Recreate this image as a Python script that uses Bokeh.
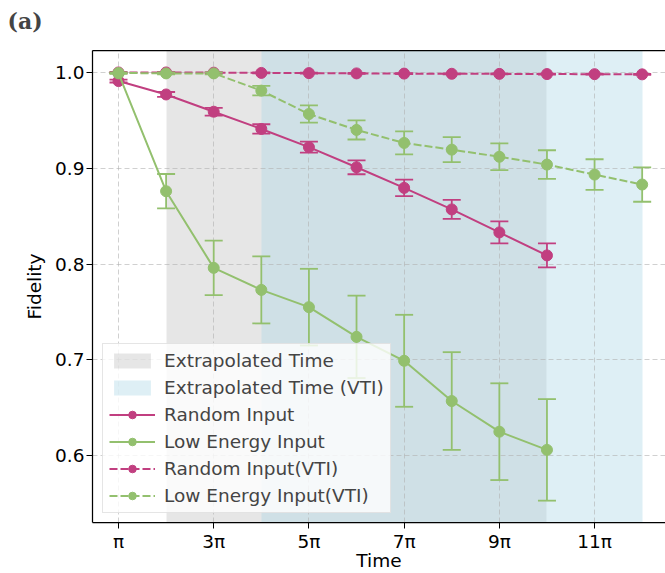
import numpy as np
from bokeh.plotting import figure
from bokeh.models import (ColumnDataSource, Legend, LegendItem, Title,
                          LinearAxis, FixedTicker, Range1d, NumeralTickFormatter)
from bokeh.embed import file_html
from bokeh.resources import INLINE

# ---------------- data ----------------
time_pi = [1, 2, 3, 4, 5, 6, 7, 8, 9, 10, 11, 12]          # time in units of pi
x_ticks = [1, 3, 5, 7, 9, 11]
x_tick_labels = ["π", "3π", "5π", "7π", "9π", "11π"]
y_ticks = [0.6, 0.7, 0.8, 0.9, 1.0]

extrap_span = [2, 10]        # Extrapolated Time
extrap_vti_span = [4, 12]    # Extrapolated Time (VTI)

random_fid = [0.991, 0.977, 0.959, 0.941, 0.922, 0.901, 0.8795, 0.857, 0.833, 0.809]
random_err = [0.0015, 0.0026, 0.004, 0.0049, 0.0057, 0.0073, 0.0087, 0.0099, 0.0115, 0.0125]

low_fid = [0.999, 0.876, 0.796, 0.773, 0.755, 0.724, 0.699, 0.657, 0.625, 0.606]
low_err = [0.0005, 0.018, 0.0285, 0.035, 0.040, 0.043, 0.048, 0.051, 0.0505, 0.053]

random_vti_fid = [1.0, 1.0, 0.9998, 0.9995, 0.9993, 0.999, 0.9988, 0.9986, 0.9985, 0.9983, 0.9982, 0.998]
random_vti_err = [0.0005] * 12

low_vti_fid = [0.9995, 0.999, 0.999, 0.981, 0.9566, 0.940, 0.9264, 0.9194, 0.912, 0.9038, 0.8934, 0.883]
low_vti_err = [0.0005, 0.001, 0.001, 0.005, 0.009, 0.010, 0.012, 0.013, 0.014, 0.015, 0.016, 0.018]

MAGENTA = "#c13f80"
GREEN = "#93c06e"
FONT = "DejaVu Sans"
FS = "18.5px"

p = figure(width=665, height=573, output_backend="svg", toolbar_location=None,
           x_range=Range1d(0.454, 12.49), y_range=Range1d(0.5302, 1.0229),
           min_border_left=92, min_border_right=0, min_border_top=49, min_border_bottom=0)
p.outline_line_color = None
p.background_fill_color = "white"

xaxis = p.below[0]
yaxis = p.left[0]

# axes
for ax in (xaxis, yaxis):
    ax.axis_line_color = "black"
    ax.axis_line_width = 1.25
    ax.major_tick_line_color = "black"
    ax.major_tick_line_width = 1
    ax.major_tick_out = 6
    ax.major_tick_in = 0
    ax.minor_tick_line_color = None
    ax.major_label_text_font = FONT
    ax.major_label_text_font_size = FS
    ax.major_label_text_color = "black"
    ax.axis_label_text_font = FONT
    ax.axis_label_text_font_size = FS
    ax.axis_label_text_font_style = "normal"
    ax.axis_label_text_color = "black"

xaxis.ticker = FixedTicker(ticks=x_ticks)
xaxis.major_label_overrides = dict(zip(x_ticks, x_tick_labels))
xaxis.axis_label = "Time"
xaxis.major_label_standoff = 2
xaxis.axis_label_standoff = -5

yaxis.ticker = FixedTicker(ticks=y_ticks)
yaxis.formatter = NumeralTickFormatter(format="0.0")
yaxis.axis_label = "Fidelity"
yaxis.major_label_standoff = 2
yaxis.axis_label_standoff = 7

# grid
p.xgrid.ticker = FixedTicker(ticks=x_ticks)
p.ygrid.ticker = FixedTicker(ticks=y_ticks)
p.grid.grid_line_color = "#b0b0b0"
p.grid.grid_line_alpha = 0.6
p.grid.grid_line_dash = "5 3"
p.grid.grid_line_width = 1

# top spine (empty axis; an invisible blank label reserves the gap under the panel label)
top_axis = LinearAxis(ticker=FixedTicker(ticks=[]), axis_label=" ",
                      axis_label_text_font_size="5px", axis_label_text_alpha=0,
                      axis_label_standoff=3,
                      axis_line_color="black", axis_line_width=1.25,
                      major_tick_line_color=None, minor_tick_line_color=None,
                      major_label_text_font_size="0px", major_label_standoff=0)
p.add_layout(top_axis, "above")

# panel label "(a)"
p.title = Title(text="(a)", align="left", offset=-85, text_font="DejaVu Serif",
                text_font_size="22px", text_font_style="bold", standoff=10)

# shaded spans (full-height vertical strips)
span_src = ColumnDataSource(dict(x0=[extrap_span[0]], x1=[extrap_span[1]]))
span_vti_src = ColumnDataSource(dict(x0=[extrap_vti_span[0]], x1=[extrap_vti_span[1]]))
s1 = p.vstrip(x0="x0", x1="x1", source=span_src, fill_color="gray", fill_alpha=0.2,
              line_color=None, level="image")
s2 = p.vstrip(x0="x0", x1="x1", source=span_vti_src, fill_color="lightblue", fill_alpha=0.4,
              line_color=None, level="image")


def series(xs, ys, errs, color, dash):
    xs = xs[:len(ys)]
    ys = np.array(ys)
    errs = np.array(errs)
    src = ColumnDataSource(dict(x=xs, y=ys, lo=ys - errs, hi=ys + errs))
    ln = p.line("x", "y", source=src, line_color=color, line_width=2, line_dash=dash)
    p.segment(x0="x", y0="lo", x1="x", y1="hi", source=src, line_color=color, line_width=1.8)
    p.scatter("x", "lo", source=src, marker="dash", size=18, line_color=color, line_width=1.8)
    p.scatter("x", "hi", source=src, marker="dash", size=18, line_color=color, line_width=1.8)
    mk = p.scatter("x", "y", source=src, marker="circle", size=11, fill_color=color, line_color=color)
    return [ln, mk]


r_random = series(time_pi, random_fid, random_err, MAGENTA, "solid")
r_low = series(time_pi, low_fid, low_err, GREEN, "solid")
r_random_vti = series(time_pi, random_vti_fid, random_vti_err, MAGENTA, "8 3")
r_low_vti = series(time_pi, low_vti_fid, low_vti_err, GREEN, "8 3")

legend = Legend(items=[
    LegendItem(label="Extrapolated Time", renderers=[s1]),
    LegendItem(label="Extrapolated Time (VTI)", renderers=[s2]),
    LegendItem(label="Random Input", renderers=r_random),
    LegendItem(label="Low Energy Input", renderers=r_low),
    LegendItem(label="Random Input(VTI)", renderers=r_random_vti),
    LegendItem(label="Low Energy Input(VTI)", renderers=r_low_vti),
], location=(10, 9), padding=6, spacing=6, glyph_width=46, glyph_height=19,
    label_standoff=9, label_text_font=FONT, label_text_font_size=FS,
    border_line_color="#cccccc", border_line_width=1,
    background_fill_color="white", background_fill_alpha=0.8)
p.add_layout(legend)

open("out.html", "w").write(file_html(p, INLINE))
